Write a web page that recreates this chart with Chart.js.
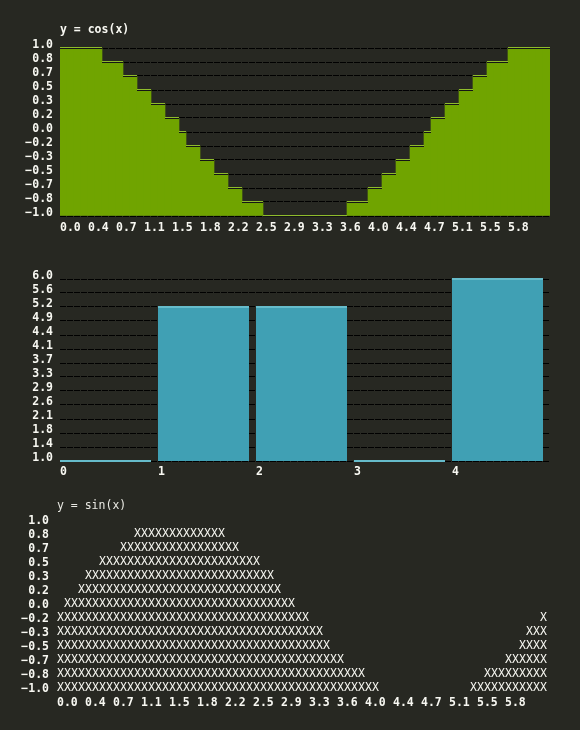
<!DOCTYPE html>
<html><head><meta charset="utf-8">
<script src="https://cdn.jsdelivr.net/npm/chart.js@4.4.1/dist/chart.umd.min.js"></script>
<style>
html,body{margin:0;padding:0;background:#272822;width:580px;height:730px;overflow:hidden}
canvas{position:absolute;left:0}
</style></head><body>
<canvas id="c1" width="580" height="240" style="top:0px"></canvas>
<canvas id="c2" width="580" height="240" style="top:240px"></canvas>
<canvas id="c3" width="580" height="250" style="top:480px"></canvas>
<script>
// ---------- data ----------
const cosTitle = 'y = cos(x)';
const sinTitle = 'y = sin(x)';
const xTickLabels = ['0.0','0.4','0.7','1.1','1.5','1.8','2.2','2.5','2.9','3.3','3.6','4.0','4.4','4.7','5.1','5.5','5.8'];
const levelTicks = [1, 0.8333, 0.6667, 0.5, 0.3333, 0.1667, 0, -0.1667, -0.3333, -0.5, -0.6667, -0.8333, -1];
const levelLabels = ['1.0','0.8','0.7','0.5','0.3','0.2','0.0','\u22120.2','\u22120.3','\u22120.5','\u22120.7','\u22120.8','\u22121.0'];
const cosLevels = [
  1, 1, 1, 1, 1, 1,
  0.8333, 0.8333, 0.8333,
  0.6667, 0.6667,
  0.5, 0.5,
  0.3333, 0.3333,
  0.1667, 0.1667,
  0,
  -0.1667, -0.1667,
  -0.3333, -0.3333,
  -0.5, -0.5,
  -0.6667, -0.6667,
  -0.8333, -0.8333, -0.8333,
  -1, -1, -1, -1, -1, -1, -1, -1, -1, -1, -1, -1,
  -0.8333, -0.8333, -0.8333,
  -0.6667, -0.6667,
  -0.5, -0.5,
  -0.3333, -0.3333,
  -0.1667, -0.1667,
  0,
  0.1667, 0.1667,
  0.3333, 0.3333,
  0.5, 0.5,
  0.6667, 0.6667,
  0.8333, 0.8333, 0.8333,
  1, 1, 1, 1, 1, 1
];
const barCategories = ['0','1','2','3','4'];
const barValues = [1.0, 5.2308, 5.2308, 1.0, 6.0];
const barTicks = [6, 5.6154, 5.2308, 4.8462, 4.4615, 4.0769, 3.6923, 3.3077, 2.9231, 2.5385, 2.1538, 1.7692, 1.3846, 1];
const barTickLabels = ['6.0','5.6','5.2','4.9','4.4','4.1','3.7','3.3','2.9','2.6','2.1','1.8','1.4','1.0'];
const sinSpans = [
  [],
  [[11,23]],
  [[9,25]],
  [[6,28]],
  [[4,30]],
  [[3,31]],
  [[1,33]],
  [[0,35],[69,69]],
  [[0,37],[67,69]],
  [[0,38],[66,69]],
  [[0,40],[64,69]],
  [[0,43],[61,69]],
  [[0,45],[59,69]]
];

// ---------- styles ----------
const FG = '#f8f8f2';
const GREEN = '#70a400', GREEN_EDGE = '#8fbc2c';
const TEAL = '#40a0b4', TEAL_EDGE = '#66bccb';
const FAMILY = "'DejaVu Sans Mono', monospace";
const FONTB = {family: FAMILY, size: 11.5, weight: 'bold'};

const chartTitle = {
  id: 'chartTitle',
  afterDraw(chart, args, o) {
    if (!o || !o.text) return;
    const ctx = chart.ctx;
    ctx.save();
    ctx.font = o.font; ctx.fillStyle = o.color;
    ctx.textAlign = 'left'; ctx.textBaseline = 'middle';
    ctx.fillText(o.text, chart.chartArea.left, chart.chartArea.top + o.dy);
    ctx.restore();
  }
};
const stepTops = {
  id: 'stepTops',
  afterDatasetsDraw(chart, args, o) {
    if (!o || !o.light) return;
    const ctx = chart.ctx;
    ctx.save();
    chart.getDatasetMeta(0).data.forEach(el => {
      const p = el.getProps(['x','y','width'], true);
      const l = Math.round(p.x - p.width / 2), w = Math.round(p.width), yy = Math.round(p.y);
      ctx.fillStyle = o.light; ctx.fillRect(l, yy - 1, w, o.lightH);
      if (o.dark) { ctx.fillStyle = o.dark; ctx.fillRect(l, yy, w, 1); }
    });
    ctx.restore();
  }
};
const common = {responsive: false, animation: false, devicePixelRatio: 1};

// ---------- chart 1: cos ----------
new Chart(document.getElementById('c1'), {
  type: 'bar',
  data: {datasets: [{
    data: cosLevels.map((v, i) => ({x: i + 0.5, y: v})),
    backgroundColor: GREEN, borderWidth: 0, base: -1,
    barPercentage: 1, categoryPercentage: 1
  }]},
  options: Object.assign({}, common, {
    layout: {padding: {top: 48, right: 30, left: 0, bottom: 0}},
    plugins: {
      legend: {display: false}, tooltip: {enabled: false},
      stepTops: {light: GREEN_EDGE, lightH: 1, dark: '#151515'},
      chartTitle: {text: cosTitle, font: "bold 11.5px 'DejaVu Sans Mono'", color: FG, dy: -18}
    },
    scales: {
      x: {type: 'linear', min: 0, max: 70, offset: false,
        grid: {display: false, drawTicks: false}, border: {display: false},
        afterBuildTicks: s => { s.ticks = xTickLabels.map((t, i) => ({value: i * 4})); },
        afterFit: s => { s.height = 24; },
        ticks: {autoSkip: false, maxRotation: 0, align: 'start', padding: 5, color: FG, font: FONTB,
          callback: (v, i) => xTickLabels[i]}},
      y: {type: 'linear', min: -1, max: 1,
        afterBuildTicks: s => { s.ticks = levelTicks.map(v => ({value: v})); },
        afterFit: s => { s.width = 60; },
        grid: {color: '#000', drawTicks: false, lineWidth: 1},
        border: {display: false, dash: [6, 1]},
        ticks: {autoSkip: false, padding: 7, labelOffset: -3, color: FG, font: FONTB,
          callback: (v, i) => levelLabels[i]}}
    }
  }),
  plugins: [stepTops, chartTitle]
});

// ---------- chart 2: bars ----------
const shift = 13 / 28;
new Chart(document.getElementById('c2'), {
  type: 'bar',
  data: {datasets: [{
    data: barValues.map((v, i) => ({x: i, y: v})),
    backgroundColor: TEAL, borderWidth: 0,
    barPercentage: 13 / 14, categoryPercentage: 1
  }]},
  options: Object.assign({}, common, {
    layout: {padding: {top: 39, right: 30, left: 0, bottom: 0}},
    plugins: {
      legend: {display: false}, tooltip: {enabled: false},
      stepTops: {light: TEAL_EDGE, lightH: 2}
    },
    scales: {
      x: {type: 'linear', min: -shift, max: barCategories.length - shift, offset: false,
        grid: {display: false, drawTicks: false}, border: {display: false},
        afterBuildTicks: s => { s.ticks = barCategories.map((c, i) => ({value: i - shift})); },
        afterFit: s => { s.height = 19; },
        ticks: {autoSkip: false, maxRotation: 0, align: 'start', padding: 4, color: FG, font: FONTB,
          callback: (v, i) => barCategories[i]}},
      y: {type: 'linear', min: 1, max: 6,
        afterBuildTicks: s => { s.ticks = barTicks.map(v => ({value: v})); },
        afterFit: s => { s.width = 60; },
        grid: {color: '#000', drawTicks: false, lineWidth: 1},
        border: {display: false, dash: [6, 1]},
        ticks: {autoSkip: false, padding: 7, labelOffset: -3, color: FG, font: FONTB,
          callback: (v, i) => barTickLabels[i]}}
    }
  }),
  plugins: [stepTops]
});

// ---------- chart 3: sin (text marks) ----------
function glyph(ch) {
  const c = document.createElement('canvas');
  c.width = 7; c.height = 14;
  const g = c.getContext('2d');
  g.fillStyle = FG; g.font = "11.5px 'DejaVu Sans Mono'";
  g.textAlign = 'center'; g.textBaseline = 'middle';
  g.fillText(ch, 3.5, 8.5);
  return c;
}
const sinPoints = [];
sinSpans.forEach((spans, r) => spans.forEach(([a, b]) => {
  for (let c = a; c <= b; c++) sinPoints.push({x: c + 0.5, y: levelTicks[r]});
}));
new Chart(document.getElementById('c3'), {
  type: 'scatter',
  data: {datasets: [{data: sinPoints, pointStyle: glyph('X'), pointRadius: 4, clip: false}]},
  options: Object.assign({}, common, {
    layout: {padding: {top: 39, right: 33, left: 0, bottom: 0}},
    plugins: {
      legend: {display: false}, tooltip: {enabled: false},
      chartTitle: {text: sinTitle, font: "11.5px 'DejaVu Sans Mono'", color: '#e8e8e2', dy: -13}
    },
    scales: {
      x: {type: 'linear', min: 0, max: 70,
        grid: {display: false, drawTicks: false}, border: {display: false},
        afterBuildTicks: s => { s.ticks = xTickLabels.map((t, i) => ({value: i * 4})); },
        afterFit: s => { s.height = 43; },
        ticks: {autoSkip: false, maxRotation: 0, align: 'start', padding: 9, color: FG, font: FONTB,
          callback: (v, i) => xTickLabels[i]}},
      y: {type: 'linear', min: -1, max: 1,
        afterBuildTicks: s => { s.ticks = levelTicks.map(v => ({value: v})); },
        afterFit: s => { s.width = 57; },
        grid: {display: false, drawTicks: false}, border: {display: false},
        ticks: {autoSkip: false, padding: 8, labelOffset: 2, color: FG, font: FONTB,
          callback: (v, i) => levelLabels[i]}}
    }
  }),
  plugins: [chartTitle]
});
</script>
</body></html>
